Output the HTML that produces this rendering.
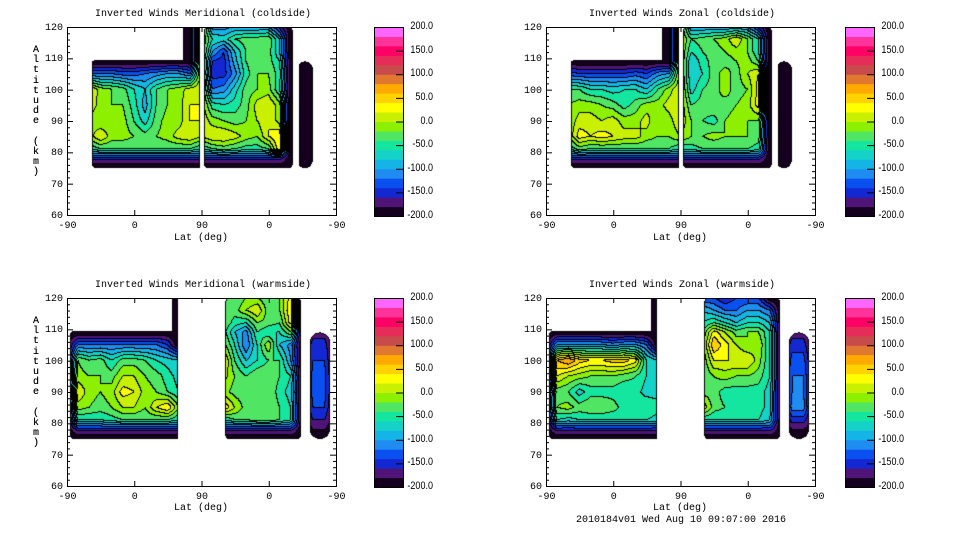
<!DOCTYPE html>
<html><head><meta charset="utf-8">
<style>
body{margin:0;background:#fff;width:960px;height:540px;overflow:hidden;position:relative;font-family:"Liberation Mono",monospace;}
.t{position:absolute;font-size:10px;color:#000;white-space:nowrap;line-height:10px;}
canvas{position:absolute;}
.cb{position:absolute;font-family:"Liberation Sans",sans-serif;font-size:11px;line-height:10px;text-align:right;width:50px;transform:scaleX(0.82);transform-origin:right center;}
</style></head><body>
<div class="t" style="left:95px;top:10px">Inverted Winds Meridional (coldside)</div>
<div class="t" style="left:589px;top:10px">Inverted Winds Zonal (coldside)</div>
<div class="t" style="left:95px;top:281px">Inverted Winds Meridional (warmside)</div>
<div class="t" style="left:589px;top:281px">Inverted Winds Zonal (warmside)</div>
<div class="t" style="left:174px;top:234px">Lat (deg)</div>
<div class="t" style="left:653px;top:234px">Lat (deg)</div>
<div class="t" style="left:174px;top:504px">Lat (deg)</div>
<div class="t" style="left:653px;top:504px">Lat (deg)</div>
<div class="t" style="left:576px;top:516px">2010184v01 Wed Aug 10 09:07:00 2016</div>
<div id="root"></div>
<svg id="ax" width="960" height="540" style="position:absolute;left:0;top:0"></svg>
<script>
const tCols=[0,15,30,45,60,75,90,105,120,135,150,165,180,195,210,225,240,255,270,285,300,315,330,345,360];
const altRows=[120,116,112,109,105,100,95,90,85,81,78,75];
const xTickLabels=["-90","0","90","0","-90"];
const xTickPos=[0,90,180,270,360];
const yTicks=[60,70,80,90,100,110,120];
const cbTicks=[200,150,100,50,0,-50,-100,-150,-200];
const bandColors=["#14001e","#501478","#1428d2","#0a50f0","#1e8cf0","#14b4e6","#14d2c8","#14e6a0","#50e664","#8cf000","#c8f000","#ffff00","#ffd200","#ffaa00","#e07830","#c84b4b","#e62d5a","#ff0066","#ff3399","#ff66ff"];
const N=-200;
const merCold=[
[N,N,N,N,N,N,N,N,N,N,N,N,10,-110,-110,-100,-100,-100,-100,-150,N,N,N,N,N],
[N,N,N,N,N,N,N,N,N,N,N,N,10,-60,-70,-40,-30,-30,-20,-80,N,N,N,N,N],
[N,N,N,N,N,N,N,N,N,N,N,N,10,-100,-140,-80,-40,-20,-30,-80,N,N,N,N,N],
[N,N,N,N,N,N,N,N,N,N,N,N,10,-140,-150,-90,-40,-20,-30,-60,N,N,N,N,N],
[N,N,-120,-120,-120,-130,-130,-120,-110,-100,-100,-120,10,-150,-150,-110,-50,-20,-20,-50,N,N,N,N,N],
[N,N,30,-10,-20,-30,-60,-80,-40,-20,-10,10,20,-120,-110,-70,-30,-20,-10,-60,N,N,N,N,N],
[N,N,20,-10,-20,-20,-50,-90,-40,-20,-10,20,20,-50,-60,-50,-30,10,20,-10,N,N,N,N,N],
[N,N,-10,-20,-10,-10,-40,-70,-30,-10,-10,20,20,-10,-20,-30,-20,0,20,-10,N,N,N,N,N],
[N,N,-10,20,-10,-10,-20,-30,-20,-10,10,20,0,20,20,10,-10,-20,20,40,N,N,N,N,N],
[N,N,-60,-40,-40,-40,-40,-40,-40,-40,-40,-40,-60,-40,-30,-40,-50,-50,-40,40,N,N,N,N,N],
[N,N,-150,-150,-150,-150,-150,-150,-150,-150,-150,-150,-150,-150,-150,-150,-150,-150,-150,-150,N,N,N,N,N],
[N,N,N,N,N,N,N,N,N,N,N,N,N,N,N,N,N,N,N,N,N,N,N,N,N]];
const zonCold=[
[N,N,N,N,N,N,N,N,N,N,N,N,10,-100,-100,-100,-100,-100,-100,-150,N,N,N,N,N],
[N,N,N,N,N,N,N,N,N,N,N,N,10,-40,-30,-20,-10,20,-20,-60,N,N,N,N,N],
[N,N,N,N,N,N,N,N,N,N,N,N,10,-60,-40,-30,-20,-10,-20,-60,N,N,N,N,N],
[N,N,N,N,N,N,N,N,N,N,N,N,10,-80,-50,-30,-30,-20,-10,-40,N,N,N,N,N],
[N,N,-130,-140,-140,-140,-140,-140,-130,-140,-110,-100,10,-80,-60,-30,-10,-30,0,20,N,N,N,N,N],
[N,N,-40,-40,-60,-60,-70,-60,-60,-80,-40,-10,20,-70,-40,-30,-10,-30,-20,30,N,N,N,N,N],
[N,N,-20,-10,-10,-20,-30,-50,-30,-10,-10,10,20,-40,-30,-20,-30,-20,-10,30,N,N,N,N,N],
[N,N,-20,10,10,0,10,-10,-10,10,-20,-10,20,-20,-40,-50,-20,-10,-20,-20,N,N,N,N,N],
[N,N,-20,30,20,30,20,10,10,-10,-20,-20,0,-20,-20,-10,-20,-20,-20,-30,N,N,N,N,N],
[N,N,-60,-30,-40,-40,-40,-40,-40,-40,-40,-40,-60,-50,-40,-40,-40,-40,-40,-50,N,N,N,N,N],
[N,N,-150,-150,-150,-150,-150,-150,-150,-150,-150,-150,-150,-150,-150,-150,-150,-150,-150,-150,N,N,N,N,N],
[N,N,N,N,N,N,N,N,N,N,N,N,N,N,N,N,N,N,N,N,N,N,N,N,N]];
const merWarm=[
[N,N,N,N,N,N,N,N,N,N,N,N,N,N,-40,-40,-20,-20,-40,-20,30,N,N,N,N],
[N,N,N,N,N,N,N,N,N,N,N,N,N,N,-30,-30,0,20,-30,-20,40,N,N,N,N],
[N,N,N,N,N,N,N,N,N,N,N,N,N,N,-20,-50,-60,-20,-30,-40,30,N,N,N,N],
[N,N,N,N,N,N,N,N,N,N,N,N,N,N,-30,-80,-110,-40,-60,-60,-20,N,-170,-170,N],
[N,-120,-120,-120,-120,-120,-120,-120,-120,-140,N,N,N,N,-10,-60,-120,-60,0,-80,-110,N,-150,-150,N],
[N,-20,-40,-30,-60,-30,-30,-40,-60,-70,-80,N,N,N,30,-40,-80,-60,-40,-40,-100,N,-140,-140,N],
[N,-10,-20,-20,-30,0,0,-20,-30,-50,-70,N,N,N,10,-20,-40,-20,-20,-40,-60,N,-130,-130,N],
[N,20,-10,-20,-10,30,20,-10,-20,-40,-60,N,N,N,-10,-30,-30,-30,-20,-50,-70,N,-130,-130,N],
[N,-10,-20,-30,-20,0,0,-20,20,40,-20,N,N,N,40,0,-30,-20,-20,-40,-60,N,-140,-140,N],
[N,-60,-60,-60,-50,-40,-40,-40,-40,-40,-60,N,N,N,-60,-40,-40,-30,-30,-40,-60,N,-160,-160,N],
[N,-150,-150,-150,-150,-150,-150,-150,-150,-150,-150,N,N,N,-150,-150,-150,-150,-150,-150,-150,N,-180,-180,N],
[N,N,N,N,N,N,N,N,N,N,N,N,N,N,N,N,N,N,N,N,N,N,N,N,N]];
const zonWarm=[
[N,N,N,N,N,N,N,N,N,N,N,N,N,N,-140,-140,-160,-140,-140,-140,N,N,N,N,N],
[N,N,N,N,N,N,N,N,N,N,N,N,N,N,-80,-100,-120,-120,-100,-100,-120,N,N,N,N],
[N,N,N,N,N,N,N,N,N,N,N,N,N,N,-60,-40,-60,-80,-60,-60,-80,N,N,N,N],
[N,N,N,N,N,N,N,N,N,N,N,N,N,N,-40,30,0,-30,-20,-20,-60,N,-170,-170,N],
[N,-100,-100,-100,-100,-100,-110,-100,-100,-120,N,N,N,N,-30,60,30,0,-20,0,-60,N,-150,-150,N],
[N,60,80,50,40,40,50,50,30,-60,-80,N,N,N,-40,20,20,20,20,-10,-60,N,-130,-130,N],
[N,20,0,-10,-20,-20,-20,-30,-40,-60,-70,N,N,N,-40,-20,-10,-20,-20,-30,-60,N,-120,-120,N],
[N,-30,-40,-70,-50,-50,-50,-60,-50,-70,-70,N,N,N,-30,-30,-50,-50,-50,-50,-70,N,-120,-120,N],
[N,-20,-10,-30,-20,-20,-30,-50,-60,-40,-50,N,N,N,20,-30,-40,-40,-50,-50,-70,N,-110,-110,N],
[N,-60,-70,-60,-60,-60,-60,-60,-60,-60,-70,N,N,N,-60,-60,-60,-60,-60,-60,-80,N,-150,-150,N],
[N,-150,-150,-150,-150,-150,-150,-150,-150,-150,-150,N,N,N,-150,-150,-150,-150,-150,-150,-150,N,-180,-180,N],
[N,N,N,N,N,N,N,N,N,N,N,N,N,N,N,N,N,N,N,N,N,N,N,N,N]];
const coldMask=[[33,178,75,109.5,4],[155,178,75,120,0],[183,302,75,120,4],[311,329,75,109,8]];
const warmMask=[[4,149,75,109.5,4],[141,149,75,120,0],[212,313,75,120,4],[325,352,75,109,10]];
const panels=[
 {name:"meridional-coldside",x0:67,y0:27,grid:merCold,mask:coldMask,cbx:374},
 {name:"zonal-coldside",x0:546,y0:27,grid:zonCold,mask:coldMask,cbx:845},
 {name:"meridional-warmside",x0:67,y0:298,grid:merWarm,mask:warmMask,cbx:374},
 {name:"zonal-warmside",x0:546,y0:298,grid:zonWarm,mask:warmMask,cbx:845}];
const W=269,H=188;
const root=document.getElementById('root');
const ax=document.getElementById('ax');
const NS="http://www.w3.org/2000/svg";
function tx(t){return t*W/360;}
function ay(a){return (120-a)*H/60;}
function inMask(mask,px,py){
 for(const m of mask){
  const l=tx(m[0]),r=tx(m[1]),top=ay(m[3]),bot=ay(m[2]),rad=m[4];
  if(px<l||px>r||py<top||py>bot)continue;
  const cx=Math.min(Math.max(px,l+rad),r-rad),cy=Math.min(Math.max(py,top+rad),bot-rad);
  if((px-cx)*(px-cx)+(py-cy)*(py-cy)<=rad*rad+0.01)return true;
 }
 return false;
}
function valueAt(grid,t,a){
 let ci=Math.min(Math.floor(t/15),tCols.length-2);const fx=(t-tCols[ci])/15;
 let ri=0;while(ri<altRows.length-2&&a<altRows[ri+1])ri++;
 const fy=(altRows[ri]-a)/(altRows[ri]-altRows[ri+1]);
 const v00=grid[ri][ci],v01=grid[ri][ci+1],v10=grid[ri+1][ci],v11=grid[ri+1][ci+1];
 return (v00*(1-fx)+v01*fx)*(1-fy)+(v10*(1-fx)+v11*fx)*fy;
}
function band(v){return Math.max(0,Math.min(19,Math.floor((v+200)/20)));}
function hex(c){return [parseInt(c.slice(1,3),16),parseInt(c.slice(3,5),16),parseInt(c.slice(5,7),16)];}
const rgb=bandColors.map(hex);
function line(x1,y1,x2,y2,name){
 const l=document.createElementNS(NS,'line');
 l.setAttribute('x1',x1);l.setAttribute('y1',y1);l.setAttribute('x2',x2);l.setAttribute('y2',y2);
 l.setAttribute('stroke','#000');l.setAttribute('stroke-width','1');
 
 
 ax.appendChild(l);
}
function label(x,y,txt,cls,align,name){
 const d=document.createElement('div');d.className=cls;d.textContent=txt;
 d.style.top=(y-5)+'px';
 if(align==='c'){d.style.left=(x-20)+'px';d.style.width='40px';d.style.textAlign='center';}
 else if(align==='r'){d.style.left=(x-50)+'px';d.style.width='50px';d.style.textAlign='right';}
 else d.style.left=x+'px';
 
 
 root.appendChild(d);
}
panels.forEach((p,pi)=>{
 const cv=document.createElement('canvas');cv.width=W;cv.height=H;
 cv.style.left=p.x0+'px';cv.style.top=p.y0+'px';
 
 
 root.appendChild(cv);
 const ctx=cv.getContext('2d');const img=ctx.createImageData(W,H);
 const B=new Int16Array(W*H);
 for(let y=0;y<H;y++)for(let x=0;x<W;x++){
  const px=x+0.5,py=y+0.5;
  if(!inMask(p.mask,px,py)){B[y*W+x]=-1;continue;}
  B[y*W+x]=band(valueAt(p.grid,px*360/W,120-py*60/H));
 }
 for(let y=0;y<H;y++)for(let x=0;x<W;x++){
  const i=y*W+x,b=B[i],o=i*4;
  if(b<0){img.data[o]=255;img.data[o+1]=255;img.data[o+2]=255;img.data[o+3]=255;continue;}
  let edge=false;
  if(x+1<W&&B[i+1]!==b)edge=true;
  if(y+1<H&&B[i+W]!==b)edge=true;
  if(x>0&&B[i-1]<0)edge=true;
  if(y>0&&B[i-W]<0)edge=true;
  const c=edge?[0,0,0]:rgb[b];
  img.data[o]=c[0];img.data[o+1]=c[1];img.data[o+2]=c[2];img.data[o+3]=255;
 }
 ctx.putImageData(img,0,0);
 const r=document.createElementNS(NS,'rect');
 r.setAttribute('x',p.x0+0.5);r.setAttribute('y',p.y0+0.5);r.setAttribute('width',W);r.setAttribute('height',H);
 r.setAttribute('fill','none');r.setAttribute('stroke','#000');
 
 
 ax.appendChild(r);
 for(let a=60;a<=120;a+=2){
  const yy=p.y0+0.5+ay(a),len=(a%10===0)?6:3;
  line(p.x0,yy,p.x0+len,yy,'y-tick');
  line(p.x0+W,yy,p.x0+W-len,yy,'y-tick-right');
 }
 yTicks.forEach(a=>label(p.x0-4,p.y0+ay(a)+2,String(a),'t','r','y-tick-label'));
 xTickPos.forEach((t,k)=>{
  const xx=p.x0+0.5+tx(t);
  line(xx,p.y0+H,xx,p.y0+H-5,'x-tick');
  line(xx,p.y0,xx,p.y0+5,'x-tick-top');
  label(xx,p.y0+H+12,xTickLabels[k],'t','c','x-tick-label');
 });
 const ch="Altitude (km)";
 for(let k=0;k<ch.length;k++){
  if(ch[k]===' ')continue;
  label(33,p.y0+24+k*10.2,ch[k],'t','l','y-axis-title-letter');
 }
 const cbH=189,cbW=29;
 for(let b=0;b<20;b++){
  const rr=document.createElementNS(NS,'rect');
  const yTop=p.y0+(19-b)*cbH/20;
  rr.setAttribute('x',p.cbx);rr.setAttribute('y',yTop);rr.setAttribute('width',cbW);rr.setAttribute('height',cbH/20+0.5);
  rr.setAttribute('fill',bandColors[b]);
  
  
  ax.appendChild(rr);
 }
 const fr=document.createElementNS(NS,'rect');
 fr.setAttribute('x',p.cbx+0.5);fr.setAttribute('y',p.y0+0.5);fr.setAttribute('width',cbW);fr.setAttribute('height',cbH);
 fr.setAttribute('fill','none');fr.setAttribute('stroke','#000');
 
 
 ax.appendChild(fr);
 cbTicks.forEach(v=>{
  const yy=p.y0+(200-v)/400*cbH;
  if(v<200&&v>-200)line(p.cbx+cbW-7,yy+0.5,p.cbx+cbW,yy+0.5,'colorbar-tick');
  label(p.cbx+59,yy-1,v.toFixed(1),'cb','r','colorbar-label');
 });
});
</script>
</body></html>
